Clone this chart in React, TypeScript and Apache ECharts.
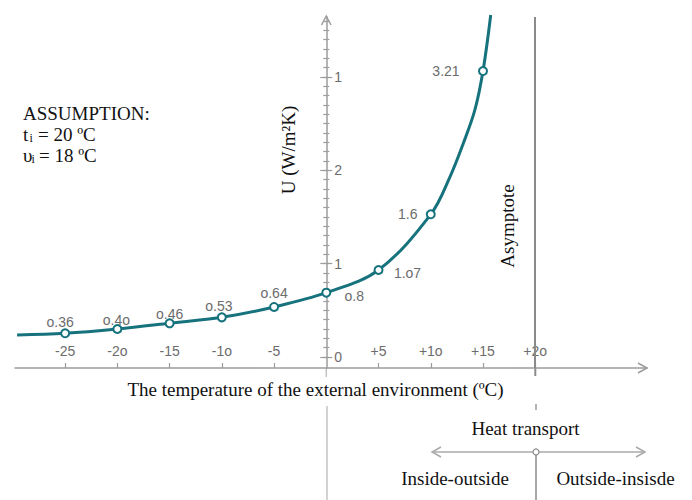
import React, { useEffect, useRef } from "react";
import * as echarts from "echarts";

// ---- data ----
// outdoor temperature (°C) along the drawn curve
const curveTemps = [-29.6, -25, -20, -15, -10, -5, 0, 5, 10, 11.84, 13.12, 14.23, 15, 15.74];
// plotted height of the curve on the U axis (axis units)
const curveU = [0.236, 0.254, 0.3, 0.361, 0.425, 0.536, 0.689, 0.932, 1.529, 1.93, 2.29, 2.65, 3.064, 3.664];
// printed value labels at the marked points
const pointLabels: (string | null)[] = [null, "o.36", "o.4o", "o.46", "o.53", "o.64", "o.8", "1.o7", "1.6", null, null, null, "3.21", null];

const xTickValues = [-25, -20, -15, -10, -5, 5, 10, 15, 20];
const xTickLabels = ["-25", "-2o", "-15", "-1o", "-5", "+5", "+1o", "+15", "+2o"];
const yTickValues = [0, 1, 2, 3];
const yTickLabels = ["0", "1", "2", "1"];
const asymptoteTemp = 20;

// ---- layout / style (not data) ----
const labelOffsets: ([number, number] | null)[] = [
  null, [-5, -11.5], [-1, -9], [0, -9], [-3, -11.5], [0, -14], [28, 3], [29, 3], [-23, 0], null, null, null, [-37, 0], null,
];
const GRID_LEFT = 15;
const GRID_RIGHT_EDGE = 647;
const X_MIN = -29.8;
const X_MAX = 30.7;
const Y_MIN = -0.118;
const Y_MAX = 3.643;
// pixel x of temperature 0 inside the grid (used to place the U labels beside the U axis)
const ZERO_X = GRID_LEFT + ((0 - X_MIN) / (X_MAX - X_MIN)) * (GRID_RIGHT_EDGE - GRID_LEFT);
const TEAL = "#16727d";
const AXIS_GRAY = "#9c9c9c";
const LABEL_GRAY = "#6c6c6c";
const SANS = "Liberation Sans, Arial, sans-serif";
const SERIF = "Liberation Serif, Times New Roman, serif";
const yMinorValues = Array.from({ length: 37 }, (_, i) => i / 10);

function yAxisPart(opts: { line: boolean; inside: boolean; ticks: number[]; len: number; labels: boolean }) {
  return {
    type: "value",
    min: Y_MIN,
    max: Y_MAX,
    position: "left",
    splitLine: { show: false },
    axisLine: {
      show: true,
      onZero: true,
      onZeroAxisIndex: 0,
      lineStyle: { color: AXIS_GRAY, width: 1.5, opacity: opts.line ? 1 : 0 },
    },
    axisTick: {
      show: true,
      inside: opts.inside,
      length: opts.len,
      customValues: opts.ticks,
      lineStyle: { color: AXIS_GRAY, width: 1.2 },
    },
    axisLabel: opts.labels
      ? {
          show: true,
          inside: true,
          margin: 8 + (ZERO_X - GRID_LEFT),
          customValues: yTickValues,
          formatter: (v: number) => yTickLabels[yTickValues.indexOf(v)] ?? "",
          color: LABEL_GRAY,
          fontSize: 14,
          fontFamily: SANS,
        }
      : { show: false },
  };
}

function serifText(text: string, x: number, y: number, extra: any = {}) {
  return {
    type: "text",
    x,
    y,
    silent: true,
    ...extra,
    style: {
      text,
      fill: "#111",
      font: `19px ${SERIF}`,
      align: extra.align ?? "center",
      verticalAlign: "middle",
    },
  };
}

function subText(text: string, x: number, y: number) {
  return {
    type: "text",
    x,
    y,
    silent: true,
    style: { text, fill: "#111", font: `12px ${SERIF}`, align: "left", verticalAlign: "middle" },
  };
}

function grayLine(x1: number, y1: number, x2: number, y2: number, color = AXIS_GRAY, w = 1.5) {
  return { type: "line", silent: true, shape: { x1, y1, x2, y2 }, style: { stroke: color, lineWidth: w } };
}

function chevron(points: number[][], color = AXIS_GRAY) {
  return { type: "polyline", silent: true, shape: { points }, style: { stroke: color, lineWidth: 1.5, fill: "none" } };
}

export default function App() {
  const ref = useRef<HTMLDivElement>(null);
  useEffect(() => {
    if (!ref.current) return;
    const chart = echarts.init(ref.current, null, { renderer: "svg" });
    const data = curveTemps.map((t, i) => {
      const lab = pointLabels[i];
      return {
        value: [t, curveU[i]],
        symbol: lab ? "emptyCircle" : "none",
        symbolSize: 8,
        label: lab
          ? {
              show: true,
              position: "inside",
              offset: labelOffsets[i] ?? [0, 0],
              formatter: lab,
              color: LABEL_GRAY,
              fontSize: 14,
              fontFamily: SANS,
            }
          : { show: false },
      };
    });
    chart.setOption({
      animation: false,
      grid: { left: GRID_LEFT, right: 692 - GRID_RIGHT_EDGE, top: 17, bottom: 132, outerBoundsMode: "none" },
      xAxis: {
        type: "value",
        min: X_MIN,
        max: X_MAX,
        splitLine: { show: false },
        axisLine: { onZero: false, lineStyle: { color: AXIS_GRAY, width: 1.5 } },
        axisTick: { show: true, inside: true, length: 5, customValues: xTickValues, lineStyle: { color: AXIS_GRAY, width: 1.2 } },
        axisLabel: {
          inside: true,
          margin: 10,
          customValues: xTickValues,
          formatter: (v: number) => xTickLabels[xTickValues.indexOf(v)] ?? "",
          color: LABEL_GRAY,
          fontSize: 14,
          fontFamily: SANS,
        },
      },
      yAxis: [
        yAxisPart({ line: true, inside: false, ticks: yTickValues, len: 6, labels: true }),
        yAxisPart({ line: false, inside: true, ticks: yTickValues, len: 6, labels: false }),
        yAxisPart({ line: false, inside: false, ticks: yMinorValues, len: 3, labels: false }),
        yAxisPart({ line: false, inside: true, ticks: yMinorValues, len: 3, labels: false }),
      ],
      series: [
        {
          type: "line",
          xAxisIndex: 0,
          yAxisIndex: 0,
          smooth: 0.35,
          clip: false,
          data,
          lineStyle: { color: TEAL, width: 3 },
          itemStyle: { color: TEAL, borderWidth: 2 },
          emphasis: { disabled: true },
          markLine: {
            silent: true,
            symbol: ["none", "none"],
            label: { show: false },
            lineStyle: { color: "#8a8a8a", width: 2, type: "solid" },
            data: [{ xAxis: asymptoteTemp }],
          },
        },
      ],
      graphic: [
        // axis arrowheads and extensions
        chevron([[321.5, 25], [326.25, 16], [331, 25]]),
        chevron([[638, 363], [647, 368], [638, 373]]),
        grayLine(326.25, 368, 326.25, 377, "#b5b5b5", 1.2),
        grayLine(327, 406, 327, 500, "#b5b5b5", 1.2),
        grayLine(535.3, 368, 535.3, 376, "#8a8a8a", 2),
        grayLine(536, 404, 536, 410, "#9a9a9a", 1.5),
        // heat transport diagram
        grayLine(432, 452, 645, 452, "#aaaaaa", 1.5),
        chevron([[441, 447], [432, 452], [441, 457]], "#aaaaaa"),
        chevron([[636, 447], [645, 452], [636, 457]], "#aaaaaa"),
        grayLine(536, 455, 536, 500, "#8a8a8a", 1.5),
        { type: "circle", silent: true, shape: { cx: 536, cy: 452, r: 3 }, style: { fill: "#fff", stroke: "#8a8a8a", lineWidth: 1.2 } },
        // texts
        serifText("The temperature of the external environment (ºC)", 315.5, 389),
        serifText("Heat transport", 525.5, 428.5),
        serifText("Inside-outside", 455, 478),
        serifText("Outside-insisde", 615.5, 478),
        serifText("U (W/m²K)", 288, 150, { rotation: Math.PI / 2 }),
        serifText("Asymptote", 507.5, 226, { rotation: Math.PI / 2 }),
        serifText("ASSUMPTION:", 23, 113, { align: "left" }),
        serifText("t", 23, 134, { align: "left" }),
        subText("i", 29.5, 138),
        serifText("= 20 ºC", 38, 134, { align: "left" }),
        serifText("υ", 23, 155, { align: "left" }),
        subText("i", 31.5, 159),
        serifText("= 18 ºC", 39, 155, { align: "left" }),
      ],
    });
    return () => chart.dispose();
  }, []);
  return <div ref={ref} style={{ position: "fixed", left: 0, top: 0, width: 692, height: 500, background: "#fff" }} />;
}
